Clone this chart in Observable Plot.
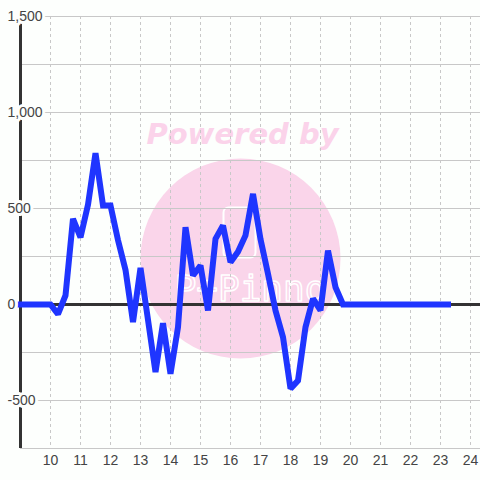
<!DOCTYPE html>
<html><head><meta charset="utf-8">
<script src="https://cdn.jsdelivr.net/npm/d3@7"></script>
<script src="https://cdn.jsdelivr.net/npm/@observablehq/plot@0.6"></script>
<style>html,body{margin:0;padding:0;background:#fdfffd;} #chart{width:480px;height:480px;}</style>
</head><body><div id="chart"></div>
<script>
const hours = [9, 9.25, 9.5, 9.75, 10, 10.25, 10.5, 10.75, 11, 11.25, 11.5, 11.75,
  12, 12.25, 12.5, 12.75, 13, 13.25, 13.5, 13.75, 14, 14.25, 14.5, 14.75,
  15, 15.25, 15.5, 15.75, 16, 16.25, 16.5, 16.75, 17, 17.25, 17.5, 17.75,
  18, 18.25, 18.5, 18.75, 19, 19.25, 19.5, 19.75, 20, 20.25, 20.5, 20.75,
  21, 21.25, 21.5, 21.75, 22, 22.25, 22.5, 22.75, 23, 23.25];
const values = [0, 0, 0, 0, 0, -50, 47, 446, 350, 520, 788, 516,
  516, 335, 180, -92, 190, -80, -352, -97, -361, -118, 403, 151,
  203, -31, 342, 411, 220, 275, 360, 576, 340, 160, -31, -170,
  -438, -396, -118, 30, -31, 281, 90, 0, 0, 0, 0, 0,
  0, 0, 0, 0, 0, 0, 0, 0, 0, 0];
const xTicks = [10, 11, 12, 13, 14, 15, 16, 17, 18, 19, 20, 21, 22, 23, 24];
const yTicks = [-500, 0, 500, 1000, 1500];
const yGrid = [-750, -500, -250, 0, 250, 500, 750, 1000, 1250, 1500];
const watermarkTitle = "Powered by";
const watermarkLogo = "P+Pinno";

const data = hours.map((h, i) => ({hour: h, value: values[i]}));
const bg = "#fdfffd";
const phone = {draw(ctx) {
  const w = 16, h = 25, r = 5;
  ctx.moveTo(-w + r, -h); ctx.lineTo(w - r, -h); ctx.arcTo(w, -h, w, -h + r, r);
  ctx.lineTo(w, h - r); ctx.arcTo(w, h, w - r, h, r); ctx.lineTo(-w + r, h);
  ctx.arcTo(-w, h, -w, h - r, r); ctx.lineTo(-w, -h + r); ctx.arcTo(-w, -h, -w + r, -h, r);
  ctx.closePath();
}};

const chart = Plot.plot({
  width: 480, height: 480,
  marginLeft: 20, marginRight: 0, marginTop: 16, marginBottom: 32,
  style: {background: bg, fontFamily: "Liberation Sans, Arial, sans-serif"},
  x: {domain: [9, 24 + 1/3]},
  y: {domain: [-750, 1500], axis: null},
  marks: [
    Plot.dot([0], {frameAnchor: "middle", dx: -10, dy: 26, r: 100, fill: "#fad5ea", stroke: null}),
    Plot.text([watermarkTitle], {frameAnchor: "middle", dx: -8, dy: -98, text: d => d, fill: "#fbd3ea", fontSize: 29, fontWeight: "bold", fontStyle: "italic", fontFamily: "DejaVu Sans"}),
    Plot.dot([0], {frameAnchor: "middle", dx: -11, dy: 0, symbol: phone, stroke: "white", strokeWidth: 2, fill: "none"}),
    Plot.text([watermarkLogo], {frameAnchor: "middle", dx: 0, dy: 57, text: d => d, fill: "none", stroke: "white", strokeWidth: 1.5, fontSize: 36, fontFamily: "DejaVu Sans Mono"}),
    Plot.gridY(yGrid, {stroke: "#c8c8c8", strokeOpacity: 1}),
    Plot.gridX(xTicks, {stroke: "#c8c8c8", strokeOpacity: 1, strokeDasharray: "3,3"}),
    Plot.ruleX([9], {stroke: "#333", strokeWidth: 3}),
    Plot.ruleY([0], {stroke: "#333", strokeWidth: 3}),
    Plot.line(data, {x: "hour", y: "value", stroke: "#1f35ff", strokeWidth: 6, strokeLinejoin: "miter", strokeMiterlimit: 2, strokeLinecap: "square"}),
    Plot.axisX(xTicks, {tickSize: 0, tickPadding: 7, fontSize: 14, color: "#444", label: null}),
    Plot.text(yTicks, {y: d => d, frameAnchor: "left", dx: -13, textAnchor: "start", text: d => d.toLocaleString("en-US"), fontSize: 14, fill: "#444", stroke: bg, strokeWidth: 6})
  ]
});
document.getElementById("chart").appendChild(chart);
</script>
</body></html>
